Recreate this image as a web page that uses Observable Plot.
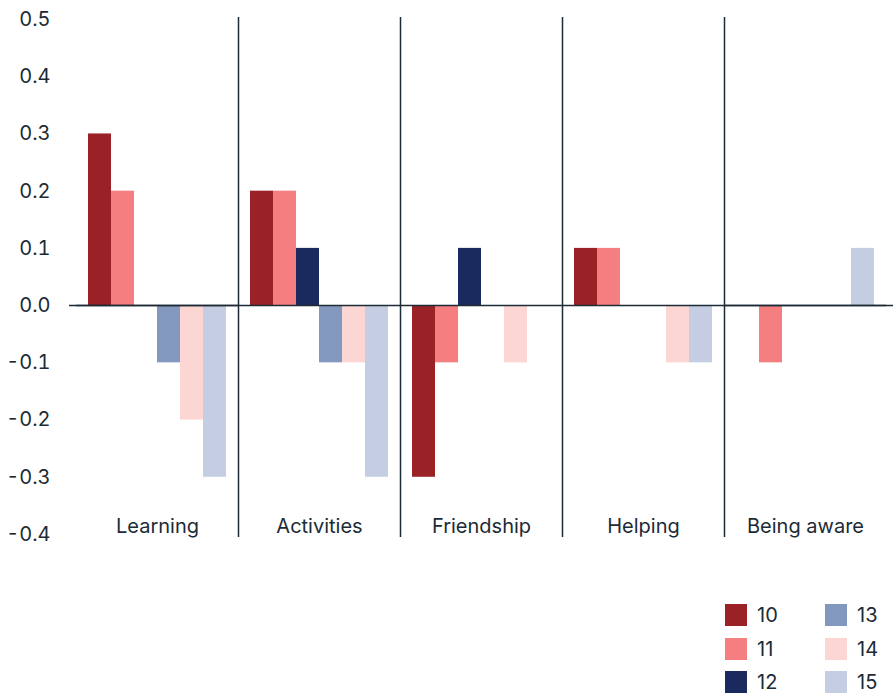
<!DOCTYPE html>
<html>
<head>
<meta charset="utf-8">
<script src="https://cdn.jsdelivr.net/npm/d3@7"></script>
<script src="https://cdn.jsdelivr.net/npm/@observablehq/plot@0.6"></script>
<style>
  html, body { margin: 0; padding: 0; background: #fff; }
  body { width: 895px; height: 693px; position: relative; font-family: Inter, "Open Sans", sans-serif; color: #1c2b36; }
  #legend { position: absolute; left: 725px; top: 604px; display: grid; grid-auto-flow: column; grid-template-rows: repeat(3, 22px); grid-template-columns: 100px 80px; row-gap: 11.5px; }
  .item { display: flex; align-items: center; font-size: 20px; line-height: 22px; }
  .sw { width: 22px; height: 22px; margin-right: 10px; flex: none; }
</style>
</head>
<body>
<div id="chart"></div>
<div id="legend"></div>
<script>
const categories = ["Learning", "Activities", "Friendship", "Helping", "Being aware"];
const ages = ["10", "11", "12", "13", "14", "15"];
const colors = ["#9a2226", "#f47e80", "#1b2a5e", "#8298bf", "#fbd6d2", "#c5cde2"];
const age10 = [0.3, 0.2, -0.3, 0.1, 0];
const age11 = [0.2, 0.2, -0.1, 0.1, -0.1];
const age12 = [0, 0.1, 0.1, 0, 0];
const age13 = [-0.1, -0.1, 0, 0, 0];
const age14 = [-0.2, -0.1, -0.1, -0.1, 0];
const age15 = [-0.3, -0.3, 0, -0.1, 0.1];
const yTicks = [-0.4, -0.3, -0.2, -0.1, 0, 0.1, 0.2, 0.3, 0.4, 0.5];

const series = [age10, age11, age12, age13, age14, age15];
const rows = [];
ages.forEach((a, j) => categories.forEach((c, i) => rows.push({cat: c, age: a, value: series[j][i]})));

const W = 895, H = 560, ML = 76, MR = 9;
const facetW = (W - ML - MR) / categories.length;
const ink = "#1c2b36";
const fmt = d3.format(".1f");

const chart = Plot.plot({
  width: W, height: H,
  marginLeft: ML, marginRight: MR, marginTop: 19, marginBottom: 26,
  style: {fontFamily: "Inter, 'Open Sans', sans-serif", fontSize: "20px", color: ink, background: "#fff"},
  fx: {domain: categories, padding: 0, axis: null},
  x: {domain: ages, paddingInner: 0, paddingOuter: 0.46, axis: null},
  y: {domain: [-0.4, 0.5], ticks: yTicks, tickFormat: d => fmt(d).replace("\u2212", "-"), tickSize: 0, tickPadding: 26, label: null},
  color: {domain: ages, range: colors},
  marks: [
    Plot.barY(rows.filter(d => d.value !== 0), {fx: "cat", x: "age", y: "value", fill: "age", inset: 0}),
    Plot.ruleY([0], {stroke: ink, strokeWidth: 1.5}),
    Plot.ruleY(["Learning"], {fx: d => d, y: () => 0, stroke: ink, strokeWidth: 1.5, insetLeft: -7}),
    Plot.ruleY(["Being aware"], {fx: d => d, y: () => 0, stroke: ink, strokeWidth: 1.5, insetRight: -7}),
    Plot.ruleX(categories.slice(1), {fx: d => d, x: null, dx: -facetW / 2, stroke: ink, strokeWidth: 1.5, insetTop: -2, insetBottom: -3}),
    Plot.text(categories, {fx: d => d, y: () => -0.387, text: d => d, fill: ink, fontSize: 20})
  ]
});
document.getElementById("chart").appendChild(chart);

const legend = document.getElementById("legend");
ages.forEach((a, j) => {
  const item = document.createElement("div");
  item.className = "item";
  item.innerHTML = `<span class="sw" style="background:${colors[j]}"></span><span>${a}</span>`;
  legend.appendChild(item);
});
</script>
</body>
</html>
